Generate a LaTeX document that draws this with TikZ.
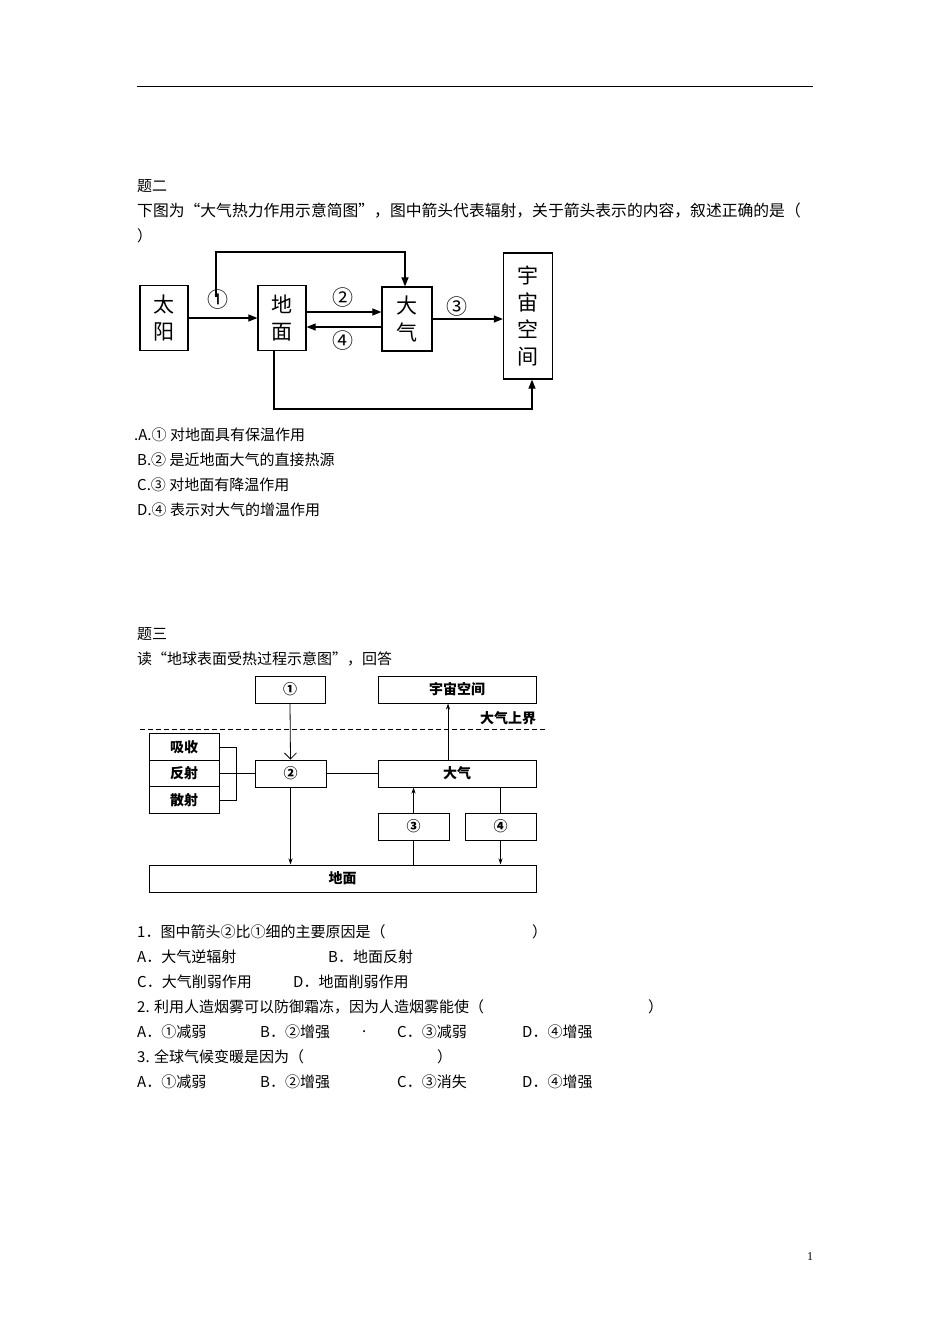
\documentclass[tikz,border=0pt]{standalone}
\usepackage{fontspec}
\setmainfont{Liberation Serif}
\newfontfamily\cjk{Noto Sans CJK SC}
\usetikzlibrary{arrows.meta}
\begin{document}
\begin{tikzpicture}[x=1pt,y=-1pt,
  txt/.style={anchor=west,inner sep=0pt,font=\cjk\fontsize{15}{17}\selectfont},
  bx/.style={draw,line width=1.2pt,inner sep=0pt},
  big/.style={font=\cjk\fontsize{21}{27}\selectfont,align=center},
  arr/.style={line width=1.1pt,-{Triangle[length=9pt,width=7pt]}},
  ln/.style={line width=1.1pt},
  bx2/.style={draw,line width=1pt,inner sep=0pt,font=\cjk\bfseries\fontsize{14}{16}\selectfont},
  arr2/.style={line width=0.8pt,-{Stealth[length=6pt,width=4pt]}}]
\useasboundingbox (0,0) rectangle (950,1344);
\draw[line width=1pt] (137,86) -- (813,86);
\node[txt] (t1) at (137,186) {题二};
\node[txt,font=\cjk\fontsize{15.8}{17}\selectfont] (t2) at (137,211) {下图为“大气热力作用示意简图”，图中箭头代表辐射，关于箭头表示的内容，叙述正确的是（};
\node[txt] (t3) at (137,236) {）};
% diagram 1
\node[bx,big,minimum width=48pt,minimum height=65pt] (sun) at (164,318) {太\\阳};
\node[bx,big,minimum width=48pt,minimum height=65pt] (gnd) at (282,318) {地\\面};
\node[bx,big,minimum width=50pt,minimum height=64pt] (atm) at (407,319) {大\\气};
\node[bx,big,minimum width=49pt,minimum height=126pt] (spc) at (528,316) {宇\\宙\\空\\间};
\node[big] (l1) at (218,300) {①};
\node[big] (l2) at (343,298) {②};
\node[big] (l4) at (343,341) {④};
\node[big] (l3) at (457,307) {③};
\coordinate (c1) at (216,297);
\draw[arr] (sun.east |- 0,318) -- (gnd.west |- 0,318);
\draw[arr] (c1) -- (216,252) -- (405,252) -- (atm.north -| 405,0);
\draw[arr] (gnd.east |- 0,312) -- (atm.west |- 0,312);
\draw[arr] (atm.west |- 0,327) -- (gnd.east |- 0,327);
\draw[arr] (atm.east |- 0,319) -- (spc.west |- 0,319);
\draw[arr] (gnd.south -| 274,0) -- (274,409) -- (532,409) -- (spc.south -| 532,0);
\node[txt] (a1) at (134,435) {.A.① 对地面具有保温作用};
\node[txt] (a2) at (137,460) {B.② 是近地面大气的直接热源};
\node[txt] (a3) at (137,485) {C.③ 对地面有降温作用};
\node[txt] (a4) at (137,510) {D.④ 表示对大气的增温作用};
\node[txt] (t4) at (137,634) {题三};
\node[txt] (t5) at (137,659) {读“地球表面受热过程示意图”，回答};
% diagram 2
\node[bx2,minimum width=70pt,minimum height=27pt] (r1) at (290,689.5) {①};
\node[bx2,minimum width=158pt,minimum height=27pt] (sp) at (457,689.5) {宇宙空间};
\draw[dashed,line width=1pt,dash pattern=on 5pt off 3pt] (140,729) -- (548,729);
\node[font=\cjk\bfseries\fontsize{14}{16}\selectfont] (ub) at (508,718) {大气上界};
\node[bx2,minimum width=70pt,minimum height=26.5pt] (xs) at (184,747) {吸收};
\node[bx2,minimum width=70pt,minimum height=26.5pt] (fs) at (184,773.5) {反射};
\node[bx2,minimum width=70pt,minimum height=26.5pt] (ss) at (184,800) {散射};
\node[bx2,minimum width=71pt,minimum height=27pt] (r2) at (290.5,773.5) {②};
\node[bx2,minimum width=158pt,minimum height=27pt] (dq) at (457,773.5) {大气};
\node[bx2,minimum width=71pt,minimum height=27pt] (r3) at (413.5,826.5) {③};
\node[bx2,minimum width=71pt,minimum height=27pt] (r4) at (500.5,826.5) {④};
\node[bx2,minimum width=387pt,minimum height=27pt] (dm) at (342.5,878.5) {地面};
\draw[line width=0.8pt] (xs.east) -- (236,747) -- (236,800) -- (ss.east);
\draw[line width=0.8pt] (fs.east) -- (r2.west);
\draw[line width=0.8pt] (r2.east) -- (dq.west);
\draw[line width=0.8pt,-{Straight Barb[length=6pt,width=12pt]}] (r1.south) -- (r2.north);
\draw[arr2] (r2.south) -- (dm.north -| r2.south);
\draw[arr2] (dq.north -| 448,0) -- (sp.south -| 448,0);
\draw[arr2] (r3.north) -- (dq.south -| r3.north);
\draw[line width=0.8pt] (dm.north -| r3.south) -- (r3.south);
\draw[line width=0.8pt] (dq.south -| r4.north) -- (r4.north);
\draw[arr2] (r4.south) -- (dm.north -| r4.south);
% questions
\node[txt] (q1) at (137,932) {1．图中箭头②比①细的主要原因是（};
\node[txt] (q1e) at (532,932) {）};
\node[txt] (q1a) at (137,957) {A．大气逆辐射};
\node[txt] (q1b) at (328,957) {B．地面反射};
\node[txt] (q1c) at (137,982) {C．大气削弱作用};
\node[txt] (q1d) at (293,982) {D．地面削弱作用};
\node[txt] (q2) at (137,1007) {2. 利用人造烟雾可以防御霜冻，因为人造烟雾能使（};
\node[txt] (q2e) at (648,1007) {）};
\node[txt] (q2a) at (137,1032) {A．①减弱};
\node[txt] (q2b) at (260,1032) {B．②增强};
\node[txt] (q2dot) at (362,1032) {.};
\node[txt] (q2c) at (397,1032) {C．③减弱};
\node[txt] (q2d) at (522,1032) {D．④增强};
\node[txt] (q3) at (137,1057) {3. 全球气候变暖是因为（};
\node[txt] (q3e) at (437,1057) {）};
\node[txt] (q3a) at (137,1082) {A．①减弱};
\node[txt] (q3b) at (260,1082) {B．②增强};
\node[txt] (q3c) at (397,1082) {C．③消失};
\node[txt] (q3d) at (522,1082) {D．④增强};
\node[anchor=west,inner sep=0pt,font=\fontsize{12}{14}\selectfont] (pg) at (807,1257) {1};
\end{tikzpicture}
\end{document}
